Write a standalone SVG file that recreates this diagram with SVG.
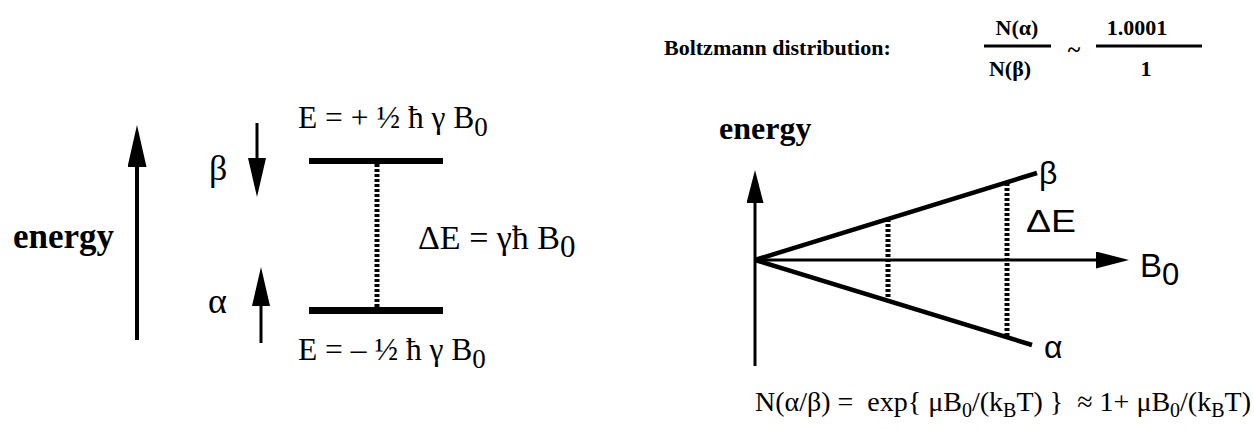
<svg xmlns="http://www.w3.org/2000/svg" width="1254" height="430" viewBox="0 0 1254 430">
<defs>
<style>
.serif{font-family:"Liberation Serif","Times New Roman",serif;fill:#000}
.sans{font-family:"Liberation Sans",Arial,sans-serif;fill:#000}
.bold{font-weight:bold}
.ln{stroke:#000;fill:none}
.dot{stroke:#000;stroke-width:5;stroke-dasharray:3 2;fill:none}
.bar{fill:#000}
</style>
<marker id="headL" markerUnits="userSpaceOnUse" viewBox="0 0 43 19" markerWidth="43" markerHeight="19" refX="1" refY="9.5" orient="auto"><path d="M0,0 L42,9.5 L0,19 z" fill="#000"/></marker>
<marker id="headM" markerUnits="userSpaceOnUse" viewBox="0 0 40 18" markerWidth="40" markerHeight="18" refX="1" refY="9" orient="auto"><path d="M0,0 L39,9 L0,18 z" fill="#000"/></marker>
<marker id="headS" markerUnits="userSpaceOnUse" viewBox="0 0 34 17" markerWidth="34" markerHeight="17" refX="1" refY="8.5" orient="auto"><path d="M0,0 L33,8.5 L0,17 z" fill="#000"/></marker>
</defs>
<rect width="1254" height="430" fill="#fff"/>

<g id="energy-label-left">
<text class="serif bold" x="13" y="248" font-size="35">energy</text>
</g>

<g id="beta-level">
<text class="serif" x="298" y="128" font-size="31.5" xml:space="preserve">E = + ½ ħ γ B<tspan font-size="27" dy="8">0</tspan></text>
<text class="serif" x="209" y="180" font-size="36">β</text>
<rect class="bar" x="309" y="158" width="134" height="6"/>
</g>

<g id="alpha-level">
<text class="serif" x="298" y="360" font-size="31.5" xml:space="preserve">E = – ½ ħ γ B<tspan font-size="27" dy="8">0</tspan></text>
<text class="serif" x="208" y="313" font-size="36">α</text>
<rect class="bar" x="309" y="307" width="134" height="7"/>
</g>

<g id="delta-e-left">
<text class="serif" x="418" y="249" font-size="34" xml:space="preserve">ΔE = γħ B<tspan dy="8" font-size="31">0</tspan></text>
</g>

<g id="boltzmann">
<text class="serif bold" x="664" y="55" font-size="22">Boltzmann distribution:</text>
<text class="serif bold" x="1017" y="35" font-size="22" text-anchor="middle">N(α)</text>
<text class="serif bold" x="1010" y="76" font-size="22" text-anchor="middle">N(β)</text>
<text class="serif bold" x="1074" y="57" font-size="24" text-anchor="middle">~</text>
<text class="serif bold" x="1137" y="35" font-size="22" text-anchor="middle">1.0001</text>
<text class="serif bold" x="1146" y="76" font-size="22" text-anchor="middle">1</text>
<line class="ln" x1="984" y1="46" x2="1051" y2="46" stroke-width="3"/>
<line class="ln" x1="1096" y1="46" x2="1202" y2="46" stroke-width="3"/>
</g>

<g id="graph-labels">
<text class="serif bold" x="719" y="139" font-size="32">energy</text>
<text class="sans" x="1039" y="184" font-size="32">β</text>
<text class="sans" x="1026" y="232" font-size="31" textLength="50" lengthAdjust="spacingAndGlyphs">ΔE</text>
<text class="sans" x="1140" y="277" font-size="33">B<tspan font-size="31" dy="8">0</tspan></text>
<text class="sans" x="1044" y="358" font-size="32">α</text>
</g>

<g id="population-formula">
<text class="serif" x="755" y="411" font-size="28" xml:space="preserve">N(α/β) =  exp{ μB<tspan font-size="20" dy="6">0</tspan><tspan dy="-6">/(k</tspan><tspan font-size="20" dy="6">B</tspan><tspan dy="-6">T) }  ≈ 1+ μB</tspan><tspan font-size="20" dy="6">0</tspan><tspan dy="-6">/(k</tspan><tspan font-size="20" dy="6">B</tspan><tspan dy="-6">T)</tspan></text>
</g>

<g id="connectors">
<line class="ln" x1="137" y1="340" x2="137" y2="166" stroke-width="4" marker-end="url(#headL)"/>
<line class="ln" x1="257" y1="123" x2="257" y2="159" stroke-width="3" marker-end="url(#headM)"/>
<line class="ln" x1="261" y1="343" x2="261" y2="305" stroke-width="3" marker-end="url(#headM)"/>
<line class="dot" x1="377" y1="164" x2="377" y2="307"/>
<line class="ln" x1="755" y1="366" x2="755" y2="202" stroke-width="3" marker-end="url(#headS)"/>
<line class="ln" x1="755" y1="260" x2="1097" y2="260" stroke-width="3" marker-end="url(#headS)"/>
<line class="ln" x1="755" y1="260" x2="1037" y2="173" stroke-width="4.5"/>
<line class="ln" x1="755" y1="260" x2="1032" y2="345" stroke-width="4.5"/>
<line class="dot" x1="888" y1="219" x2="888" y2="301"/>
<line class="dot" x1="1007" y1="183" x2="1007" y2="337"/>
</g>
</svg>
